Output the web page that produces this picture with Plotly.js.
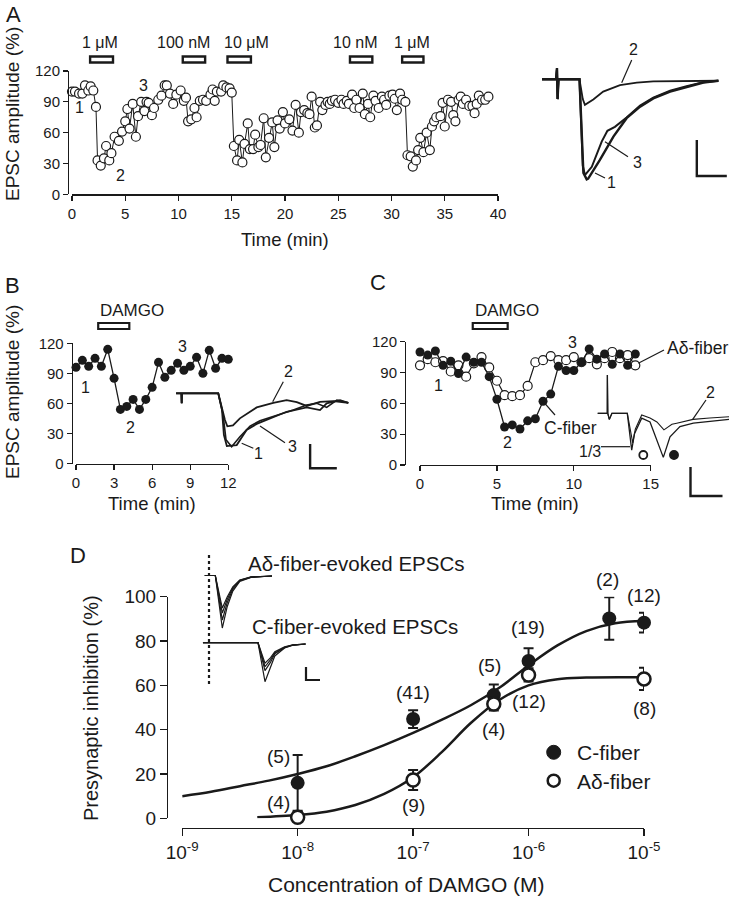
<!DOCTYPE html>
<html><head><meta charset="utf-8">
<script src="https://cdn.plot.ly/plotly-3.0.1.min.js"></script>
<style>html,body{margin:0;padding:0;background:#fff}#chart{width:729px;height:899px}</style>
</head><body><div id="chart"></div>
<script>
// ---------------- DATA ----------------
// Panel A: EPSC amplitude (%) vs time (min)
const aTime = [0,0.28,0.66,0.97,1.22,1.53,1.75,2.0,2.25,
 2.4,2.7,3.0,3.2,3.5,3.7,4.0,4.4,4.7,5.0,5.2,5.4,5.7,6.0,6.2,6.5,6.8,7.0,7.2,7.5,7.7,8.1,8.4,8.7,8.9,9.2,9.5,9.8,10.2,10.5,10.7,10.9,11.2,11.5,11.7,12.0,12.3,12.6,13.0,13.2,13.4,13.6,14.0,14.2,14.5,14.8,15.0,
 15.2,15.5,15.7,16.0,16.2,16.5,16.7,17.0,17.2,17.5,17.7,18.0,18.2,18.5,18.8,19.0,19.3,19.5,19.8,20.0,20.4,20.7,21.0,21.3,21.5,21.8,22.1,22.3,22.5,22.8,23.0,23.3,23.5,23.8,24.0,24.2,24.4,24.7,25.0,25.3,25.5,25.8,26.0,26.3,26.5,26.7,27.0,27.3,27.5,27.8,28.0,28.3,28.5,28.8,29.1,29.3,29.5,29.8,30.1,30.3,30.5,30.8,31.0,31.3,
 31.5,31.8,32.0,32.3,32.5,32.7,33.0,33.3,33.6,33.8,34.0,34.2,34.6,34.8,35.0,35.3,35.6,35.8,36.0,36.3,36.5,36.7,37.0,37.3,37.6,37.8,38.0,38.2,38.5,38.8,39.1];
const aAmp = [100,100,98,98,106,101,105,101,85,
 33,28,35,47,33,40,56,52,61,71,83,64,88,56,76,90,81,90,89,77,84,92,96,106,106,98,88,97,101,91,94,71,73,84,75,91,92,91,97,102,91,100,100,106,104,103,99,
 47,33,53,31,49,69,44,44,58,46,48,74,36,55,70,46,72,64,80,69,73,62,87,60,80,82,79,78,95,65,67,90,82,87,90,88,91,92,89,92,88,91,88,97,84,92,84,98,78,88,75,96,91,84,95,92,87,96,97,93,82,98,92,90,
 38,37,27,33,43,55,41,60,43,66,71,75,76,89,66,92,90,77,71,92,95,88,92,86,86,79,88,96,92,92,95];
const aDrugLabels = ['1 μM','100 nM','10 μM','10 nM','1 μM'];
const aDrugStart = [1.7, 10.4, 14.6, 26.1, 31.0];
const aDrugEnd   = [3.85, 12.5, 16.8, 28.2, 33.0];

// Panel A inset traces (time ms, current pA)
const aTr1T = [-5,-0.3,0,0.2,0.5,7.5,8.8,9.9,10.4,14.3,18.8,23.2,27.7,32.1,37.7,43.2,48.8,53.8];
const aTr1I = [0,0,31,-55,0,0,-260,-278,-276,-224,-159,-108,-76,-53,-34,-21,-9,-4];
const aTr2T = [-5,-0.3,0,0.2,0.5,7.5,8.6,9.3,12.1,15.4,21,26.6,32.1,43.2,53.8];
const aTr2I = [0,0,31,-55,0,0,-55,-71,-56,-34,-16,-9.5,-5.5,-4,-4];
const aTr3T = [-5,-0.3,0,0.2,0.5,7.5,8.6,9.3,11.6,14.9,16.8,19.3,23.2,27.7,32.1,37.7,43.2,48.8,53.8];
const aTr3I = [0,0,31,-55,0,0,-240,-266,-243,-173,-143,-132,-106,-73,-51,-32,-19,-8,-4];

// Panel B
const bTime = [0,0.5,1,1.5,2,2.5,3,3.5,4,4.5,5,5.5,6,6.5,7,7.5,8,8.5,9,9.5,10,10.5,11,11.5,12];
const bAmp  = [96,103,97,105,97,114,85,54,57,64,54,64,76,101,86,93,100,93,97,106,90,113,95,105,104];
const bDrugStart = [1.75], bDrugEnd = [4.2];
const bTr1T = [-2.1,-0.1,0,0.1,13.7,15.1,15.8,16.9,20.6,24.3,28.1,33.1,39.3,46.8,51.8,54.3,59.3,62.4];
const bTr1I = [0,0,-41,0,0,-69,-171,-217,-213,-151,-126,-103,-76,-58,-69,-41,-28,-39];
const bTr2T = [-2.1,-0.1,0,0.1,13.7,15.1,16.2,17.1,19.2,21.8,28.1,34.3,39.3,43.1,46.8,51.8,56.8,62.4];
const bTr2I = [0,0,-41,0,0,-60,-110,-136,-132,-103,-58,-39,-28,-36,-52,-35,-32,-39];
const bTr3T = [-2.1,-0.1,0,0.1,13.7,15.5,16.6,18.7,21.8,25.6,29.3,34.3,41.8,46.8,50.6,54.3,58.1,62.4];
const bTr3I = [0,0,-41,0,0,-89,-191,-220,-179,-135,-113,-96,-69,-48,-41,-58,-28,-39];

// Panel C
const cTime = [0,0.5,1,1.5,2,2.5,3,3.5,4,4.5,5,5.5,6,6.5,7,7.5,8,8.5,9,9.5,10,10.5,11,11.5,12,12.5,13,13.5,14];
const cCfiber  = [110,107,111,97,101,89,105,100,100,86,64,37,39,35,43,45,62,69,96,92,92,100,113,103,108,98,108,97,108];
const cAdfiber = [97,103,100,101,91,97,86,99,105,95,82,68,67,68,77,100,102,106,102,102,105,100,104,98,104,110,104,107,97];
const cDrugStart = [3.43], cDrugEnd = [5.7];
const cTr13T = [-6,0,0.05,0.3,1.25,2.9,12.5,15.25,17,21.5,26.7,31,35,39.2,45.4,53.8,64,76.3];
const cTr13I = [0,0,132,0,-21,0,0,-127,-70,-17,-30,-90,-152,-81,-46,-34,-27,-21];
const cTr2T  = [-6,0,0.05,0.3,1.25,2.9,12.5,15.9,17.5,21.5,26.7,31,35.4,40.4,43.4,53.6,64,76.3];
const cTr2I  = [0,0,132,0,-21,0,0,-102,-55,-6,-16,-30,-57,-38,-34,-21,-16,-12];

// Panel D: concentration-response
const dConcC = [1e-8,1e-7,5e-7,1e-6,5e-6,1e-5];
const dInhC  = [16,44.8,55.6,71,90.2,88.3];
const dErrC  = [12.6,4,4.8,5.7,9.6,4.5];
const dNC    = ['(5)','(41)','(5)','(19)','(2)','(12)'];
const dConcA = [1e-8,1e-7,5e-7,1e-6,1e-5];
const dInhA  = [0.5,17.3,51.6,64.7,62.9];
const dErrA  = [2.5,4.5,3,3,5];
const dNA    = ['(4)','(9)','(4)','(12)','(8)'];
const fitConcC = [1e-9,1.78e-9,3.16e-9,5.62e-9,1e-8,1.78e-8,3.16e-8,5.62e-8,1e-7,1.78e-7,3.16e-7,5.62e-7,1e-6,1.78e-6,3.16e-6,5.62e-6,1e-5];
const fitC     = [10,12,14.5,17,20,23.5,28,33,38.5,44.5,51,59,69,78,84.5,88,89];
const fitConcA = [4.47e-9,1e-8,1.78e-8,3.16e-8,5.62e-8,1e-7,1.78e-7,3.16e-7,5.62e-7,1e-6,1.78e-6,3.16e-6,1e-5];
const fitA     = [0.5,1.5,3,6,11,18.5,30,43,53.5,60,62.8,63.5,63.6];
// Panel D inset traces
const dAdT = [-3,4.5,9.5,13,17,22,30,45];
const dAdI1 = [0,0,-404,-240,-120,-45,-15,-4];
const dAdI2 = [0,0,-342,-210,-105,-40,-13,-4];
const dAdI3 = [0,0,-288,-185,-95,-37,-12,-4];
const dAdI4 = [0,0,-250,-165,-88,-35,-11,-4];
const dCT = [-4.3,35,40,44,47,54,60,69];
const dCI1 = [0,0,-300,-190,-102,-41,-20,-10];
const dCI2 = [0,0,-215,-150,-85,-38,-18,-10];
const dCI3 = [0,0,-185,-130,-78,-35,-17,-10];
const dCI4 = [0,0,-158,-115,-70,-32,-16,-10];
// scale bars (ms, pA)
const scaleA = [10, 100], scaleB = [10, 100], scaleC = [20, 100], scaleD = [10, 100];

// ---------------- LAYOUT HELPERS ----------------
const W = 729, H = 899;
const FONT = 'Liberation Sans, Arial, Helvetica, sans-serif';
const INK = '#1a1a1a';
const PX = v => v / W, PY = v => 1 - v / H;
const domX = (a, b) => [a / W, b / W];
const domY = (top, bottom) => [1 - bottom / H, 1 - top / H];

function mainAxis(extra) {
  return Object.assign({showline:true, linecolor:INK, linewidth:1.3, ticks:'outside', ticklen:5,
    tickwidth:1.3, tickcolor:INK, showgrid:false, zeroline:false, fixedrange:true,
    tickfont:{family:FONT, size:15, color:INK}}, extra);
}
function hiddenAxis(extra) {
  return Object.assign({visible:false, showgrid:false, zeroline:false, fixedrange:true}, extra);
}
const annotations = [];
function txt(text, x, y, size, opts) {
  annotations.push(Object.assign({text:text, x:PX(x), y:PY(y), xref:'paper', yref:'paper', showarrow:false,
    xanchor:'center', yanchor:'middle', font:{family:FONT, size:size, color:INK}}, opts || {}));
}
const shapes = [];
function seg(x0, y0, x1, y1, w) {
  shapes.push({type:'line', xref:'paper', yref:'paper', x0:PX(x0), y0:PY(y0), x1:PX(x1), y1:PY(y1),
    line:{color:INK, width:w || 1.2}, layer:'above'});
}
function dot(x, y, r, filled, w) {
  shapes.push({type:'circle', xref:'paper', yref:'paper', x0:PX(x - r), x1:PX(x + r), y0:PY(y + r), y1:PY(y - r),
    line:{color:INK, width:w || 2}, fillcolor: filled ? INK : '#fff', layer:'above'});
}

const traces = [];
function line(x, y, xa, ya, w) {
  traces.push({x:x, y:y, xaxis:xa, yaxis:ya, mode:'lines', line:{color:INK, width:w, shape:'linear'},
    hoverinfo:'skip', showlegend:false, cliponaxis:false});
}
function scaleBar(xa, ya, t0, i0, sc, w) {
  line([t0, t0, t0 + sc[0]], [i0 + sc[1], i0, i0], xa, ya, w);
}

// ---------------- PANEL A ----------------
traces.push({x:aTime, y:aAmp, xaxis:'x', yaxis:'y', mode:'lines+markers', cliponaxis:false,
  line:{color:INK, width:1}, marker:{symbol:'circle', size:9, color:'#fff', line:{color:INK, width:1.2}},
  showlegend:false, hoverinfo:'skip'});
aDrugStart.forEach((s, i) => {
  shapes.push({type:'rect', xref:'x', yref:'paper', x0:s, x1:aDrugEnd[i], y0:PY(62.5), y1:PY(56.5),
    line:{color:INK, width:2.4}, fillcolor:'#fff', layer:'above'});
});
const aLabShift = [-2, -10, 7, -6, -1];
aDrugLabels.forEach((t, i) => {
  annotations.push({text:t, x:(aDrugStart[i] + aDrugEnd[i]) / 2, xref:'x', y:PY(42), yref:'paper',
    xshift:aLabShift[i], showarrow:false, xanchor:'center', yanchor:'middle', font:{family:FONT, size:16, color:INK}});
});
line(aTr2T, aTr2I, 'x2', 'y2', 1.8);
line(aTr3T, aTr3I, 'x2', 'y2', 2.0);
line(aTr1T, aTr1I, 'x2', 'y2', 2.4);
scaleBar('x2', 'y2', 46.6, -268.6, scaleA, 2.4);

// ---------------- PANEL B ----------------
traces.push({x:bTime, y:bAmp, xaxis:'x3', yaxis:'y3', mode:'lines+markers', cliponaxis:false,
  line:{color:INK, width:1.3}, marker:{symbol:'circle', size:9, color:INK},
  showlegend:false, hoverinfo:'skip'});
shapes.push({type:'rect', xref:'x3', yref:'paper', x0:bDrugStart[0], x1:bDrugEnd[0], y0:PY(329), y1:PY(323),
  line:{color:INK, width:2.2}, fillcolor:'#fff', layer:'above'});
annotations.push({text:'DAMGO', x:bDrugStart[0], xref:'x3', y:PY(310), yref:'paper', showarrow:false,
  xanchor:'left', yanchor:'middle', font:{family:FONT, size:17, color:INK}});
line(bTr2T, bTr2I, 'x4', 'y4', 1.8);
line(bTr3T, bTr3I, 'x4', 'y4', 1.6);
line(bTr1T, bTr1I, 'x4', 'y4', 1.8);
scaleBar('x4', 'y4', 48.1, -308.6, scaleB, 2.4);

// ---------------- PANEL C ----------------
traces.push({x:cTime, y:cAdfiber, xaxis:'x5', yaxis:'y5', mode:'lines+markers', cliponaxis:false,
  line:{color:INK, width:1.2}, marker:{symbol:'circle', size:9, color:'#fff', line:{color:INK, width:1.2}},
  showlegend:false, hoverinfo:'skip'});
traces.push({x:cTime, y:cCfiber, xaxis:'x5', yaxis:'y5', mode:'lines+markers', cliponaxis:false,
  line:{color:INK, width:1.3}, marker:{symbol:'circle', size:9, color:INK},
  showlegend:false, hoverinfo:'skip'});
shapes.push({type:'rect', xref:'x5', yref:'paper', x0:cDrugStart[0], x1:cDrugEnd[0], y0:PY(329), y1:PY(323),
  line:{color:INK, width:2.2}, fillcolor:'#fff', layer:'above'});
annotations.push({text:'DAMGO', x:cDrugStart[0], xref:'x5', y:PY(310), yref:'paper', showarrow:false,
  xanchor:'left', yanchor:'middle', font:{family:FONT, size:17, color:INK}});
line(cTr2T, cTr2I, 'x6', 'y6', 1.1);
line(cTr13T, cTr13I, 'x6', 'y6', 1.3);
scaleBar('x6', 'y6', 52, -285, scaleC, 2.4);

// ---------------- PANEL D ----------------
traces.push({x:fitConcC, y:fitC, xaxis:'x7', yaxis:'y7', mode:'lines', line:{color:INK, width:2.5, shape:'spline'},
  showlegend:false, hoverinfo:'skip'});
traces.push({x:fitConcA, y:fitA, xaxis:'x7', yaxis:'y7', mode:'lines', line:{color:INK, width:2.5, shape:'spline'},
  showlegend:false, hoverinfo:'skip'});
traces.push({x:dConcC, y:dInhC, xaxis:'x7', yaxis:'y7', mode:'markers', cliponaxis:false,
  error_y:{type:'data', array:dErrC, visible:true, color:INK, thickness:2, width:5},
  marker:{symbol:'circle', size:14, color:INK}, showlegend:false, hoverinfo:'skip'});
traces.push({x:dConcA, y:dInhA, xaxis:'x7', yaxis:'y7', mode:'markers', cliponaxis:false,
  error_y:{type:'data', array:dErrA, visible:true, color:INK, thickness:2, width:5},
  marker:{symbol:'circle', size:13, color:'#fff', line:{color:INK, width:2.5}}, showlegend:false, hoverinfo:'skip'});
const nOffC = [[-19,-26],[0,-27],[-4,-30],[-1,-33],[-2,-39],[0,-27]];
const nOffA = [[-19,-15],[0,26],[0,26],[0,27],[0,30]];
dNC.forEach((t, i) => annotations.push({text:t, x:Math.log10(dConcC[i]), y:dInhC[i], xref:'x7', yref:'y7',
  xshift:nOffC[i][0], yshift:-nOffC[i][1], showarrow:false, font:{family:FONT, size:19, color:INK}}));
dNA.forEach((t, i) => annotations.push({text:t, x:Math.log10(dConcA[i]), y:dInhA[i], xref:'x7', yref:'y7',
  xshift:nOffA[i][0], yshift:-nOffA[i][1], showarrow:false, font:{family:FONT, size:19, color:INK}}));
[dAdI1, dAdI2, dAdI3, dAdI4].forEach(v => line(dAdT, v, 'x8', 'y8', 1.2));
[dCI1, dCI2, dCI3, dCI4].forEach(v => line(dCT, v, 'x9', 'y9', 1.2));
scaleBar('x9', 'y9', 69.3, -287, scaleD, 2.2);
shapes.push({type:'line', xref:'paper', yref:'paper', x0:PX(209), x1:PX(209), y0:PY(555), y1:PY(687),
  line:{color:INK, width:2.2, dash:'dot'}, layer:'above'});

// ---------------- TEXT ----------------
txt('A', 13, 15, 22); txt('B', 12, 286, 22); txt('C', 378, 283, 22); txt('D', 78, 555, 22);
txt('EPSC amplitude (%)', 12, 114, 19, {textangle:-90});
txt('EPSC amplitude (%)', 12, 392, 19, {textangle:-90});
txt('Time (min)', 285, 239, 18.5);
txt('Time (min)', 152, 503, 18.5);
txt('Time (min)', 535, 503, 18.5);
txt('Presynaptic inhibition (%)', 91, 708, 20, {textangle:-90});
txt('Concentration of DAMGO (M)', 406, 884, 21);
// A labels
txt('1', 79, 108, 16); txt('2', 120, 175, 16); txt('3', 143, 85, 16);
txt('2', 633, 49, 16); txt('3', 637, 162, 16); txt('1', 611, 183, 16);
seg(631.7, 60, 621.7, 82.7); seg(628, 156.7, 605, 141.7); seg(605, 178, 595, 173);
// B labels
txt('1', 85, 387, 16); txt('2', 130, 427, 16); txt('3', 182, 347, 16);
txt('2', 288, 372, 16); txt('1', 258, 453, 16); txt('3', 292, 447, 16);
seg(283.3, 381.7, 272.7, 401.7); seg(253.3, 448.3, 241.7, 443.3); seg(285, 442.7, 260, 426);
// C labels
txt('1', 438, 385, 16); txt('2', 507, 443, 16); txt('3', 572, 343, 16);
txt('C-fiber', 570, 428, 17.5); txt('Aδ-fiber', 697, 348, 17.5);
seg(555, 415, 543.3, 401.7); seg(664, 350, 638.3, 363.3);
txt('1/3', 590, 452, 16); txt('2', 710, 393, 16);
seg(601, 446.7, 630, 446.7); seg(706, 400, 692.7, 419.3);
dot(643.3, 455, 4, false, 1.8); dot(674, 455, 4.2, true, 1.5);
// D inset labels & legend
txt('Aδ-fiber-evoked EPSCs', 356, 563, 20.5);
txt('C-fiber-evoked EPSCs', 355, 626, 20.5);
dot(553.7, 752.3, 7, true, 1); dot(553.7, 780.7, 6, false, 2.5);
txt('C-fiber', 575, 752, 21, {xanchor:'left'});
txt('Aδ-fiber', 575, 781, 21, {xanchor:'left'});

const layout = {
  width:W, height:H, margin:{l:0, r:0, t:0, b:0}, paper_bgcolor:'#fff', plot_bgcolor:'rgba(0,0,0,0)',
  showlegend:false, font:{family:FONT, color:INK},
  xaxis: mainAxis({domain:domX(72, 498), range:[0, 40], tickvals:[0,5,10,15,20,25,30,35,40], anchor:'y'}),
  yaxis: mainAxis({domain:domY(71, 194.3), range:[0, 120], tickvals:[0,30,60,90,120], anchor:'free', position:PX(68)}),
  xaxis2: hiddenAxis({domain:domX(535, 729), range:[-7.33, 57.33], anchor:'y2'}),
  yaxis2: hiddenAxis({domain:domY(50, 200), range:[-335.3, 81.4], anchor:'x2'}),
  xaxis3: mainAxis({domain:domX(76, 228.3), range:[0, 12], tickvals:[0,3,6,9,12], anchor:'y3'}),
  yaxis3: mainAxis({domain:domY(343.3, 463.5), range:[0, 120], tickvals:[0,30,60,90,120], anchor:'free', position:PX(71.7)}),
  xaxis4: hiddenAxis({domain:domX(170, 360), range:[-4.38, 66.78], anchor:'y4'}),
  yaxis4: hiddenAxis({domain:domY(380, 470), range:[-315.6, 54.7], anchor:'x4'}),
  xaxis5: mainAxis({domain:domX(420, 650.7), range:[0, 15], tickvals:[0,5,10,15], anchor:'y5'}),
  yaxis5: mainAxis({domain:domY(341.7, 465), range:[0, 120], tickvals:[0,30,60,90,120], anchor:'free', position:PX(405)}),
  xaxis6: hiddenAxis({domain:domX(590, 729), range:[-10.81, 76.06], anchor:'y6'}),
  yaxis6: hiddenAxis({domain:domY(360, 500), range:[-299, 183.8], anchor:'x6'}),
  xaxis7: mainAxis({type:'log', domain:domX(182.2, 644), range:[-9, -5], anchor:'free', position:PY(828),
    tickvals:[1e-9,1e-8,1e-7,1e-6,1e-5], ticktext:['10<sup>-9</sup>','10<sup>-8</sup>','10<sup>-7</sup>','10<sup>-6</sup>','10<sup>-5</sup>'],
    ticklen:7, tickfont:{family:FONT, size:19, color:INK}}),
  yaxis7: mainAxis({domain:domY(596.7, 818.3), range:[0, 100], tickvals:[0,20,40,60,80,100], anchor:'free', position:PX(167),
    ticklen:7, tickfont:{family:FONT, size:19, color:INK}}),
  xaxis8: hiddenAxis({domain:domX(195, 320), range:[-10, 79.3], anchor:'y8'}),
  yaxis8: hiddenAxis({domain:domY(550, 640), range:[-496, 196], anchor:'x8'}),
  xaxis9: hiddenAxis({domain:domX(195, 320), range:[-10, 79.3], anchor:'y9'}),
  yaxis9: hiddenAxis({domain:domY(630, 690), range:[-363.8, 97.7], anchor:'x9'}),
  annotations: annotations, shapes: shapes
};
Plotly.newPlot('chart', traces, layout, {staticPlot:true, displayModeBar:false});
</script></body></html>
